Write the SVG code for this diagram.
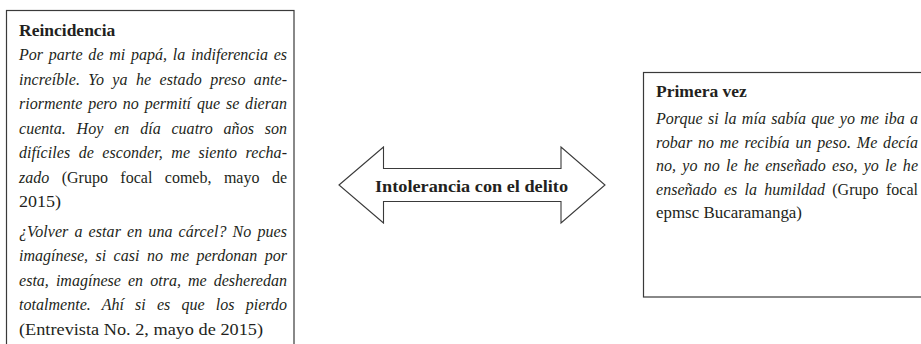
<svg xmlns="http://www.w3.org/2000/svg" width="921" height="344" viewBox="0 0 921 344">
<style>
.box{fill:#ffffff;stroke:#3a3a3a;stroke-width:1.2}
.arrow{fill:#ffffff;stroke:#3a3a3a;stroke-width:1.1;stroke-linejoin:miter}
.t{font-family:"Liberation Serif","Times New Roman",serif;font-size:16px;fill:#231f20}
.it{font-style:italic}
.b{font-weight:bold;font-size:17.5px}
</style>
<rect width="921" height="344" fill="#ffffff"/>
<g id="connectors">
  <polygon class="arrow" points="339,185 383.5,147 383.5,168.5 561,168.5 561,147 605,185 561,223 561,201.5 383.5,201.5 383.5,223"/>
  <text class="t b" x="375" y="192" textLength="193" lengthAdjust="spacingAndGlyphs">Intolerancia con el delito</text>
</g>
<g id="reincidencia">
  <rect class="box" x="6.5" y="10.5" width="287.5" height="345"/>
  <text class="t b" x="19" y="36">Reincidencia</text>
  <text class="t it" x="19" y="60" word-spacing="1.7" textLength="268" lengthAdjust="spacing">Por parte de mi papá, la indiferencia es</text>
  <text class="t it" x="19" y="84.5" word-spacing="4.3" textLength="268" lengthAdjust="spacing">increíble. Yo ya he estado preso ante-</text>
  <text class="t it" x="19" y="109" word-spacing="1.8" textLength="268" lengthAdjust="spacing">riormente pero no permití que se dieran</text>
  <text class="t it" x="19" y="133.5" word-spacing="6.8" textLength="268" lengthAdjust="spacing">cuenta. Hoy en día cuatro años son</text>
  <text class="t it" x="19" y="158" word-spacing="4.4" textLength="268" lengthAdjust="spacing">difíciles de esconder, me siento recha-</text>
  <text class="t" x="19" y="182.5" word-spacing="8.4" textLength="268" lengthAdjust="spacing"><tspan class="it">zado</tspan> (Grupo focal comeb, mayo de</text>
  <text class="t" x="19" y="207" textLength="42" lengthAdjust="spacingAndGlyphs">2015)</text>
  <text class="t it" x="19" y="236.5" word-spacing="2" textLength="268" lengthAdjust="spacing">¿Volver a estar en una cárcel? No pues</text>
  <text class="t it" x="19" y="261" word-spacing="3.4" textLength="268" lengthAdjust="spacing">imagínese, si casi no me perdonan por</text>
  <text class="t it" x="19" y="285.5" word-spacing="3" textLength="268" lengthAdjust="spacing">esta, imagínese en otra, me desheredan</text>
  <text class="t it" x="19" y="310" word-spacing="7.1" textLength="268" lengthAdjust="spacing">totalmente. Ahí si es que los pierdo</text>
  <text class="t" x="19" y="334.5" textLength="244" lengthAdjust="spacingAndGlyphs">(Entrevista No. 2, mayo de 2015)</text>
</g>
<g id="primera-vez">
  <rect class="box" x="643.5" y="72.5" width="290" height="224.5"/>
  <text class="t b" x="656" y="97">Primera vez</text>
  <text class="t it" x="656" y="124" word-spacing="1.2" textLength="262" lengthAdjust="spacing">Porque si la mía sabía que yo me iba a</text>
  <text class="t it" x="656" y="147.5" word-spacing="1.7" textLength="262" lengthAdjust="spacing">robar no me recibía un peso. Me decía</text>
  <text class="t it" x="656" y="171" word-spacing="2.2" textLength="262" lengthAdjust="spacing">no, yo no le he enseñado eso, yo le he</text>
  <text class="t" x="656" y="194.5" word-spacing="3.2" textLength="262" lengthAdjust="spacing"><tspan class="it">enseñado es la humildad</tspan> (Grupo focal</text>
  <text class="t" x="656" y="218" textLength="146" lengthAdjust="spacingAndGlyphs">epmsc Bucaramanga)</text>
</g>
</svg>
